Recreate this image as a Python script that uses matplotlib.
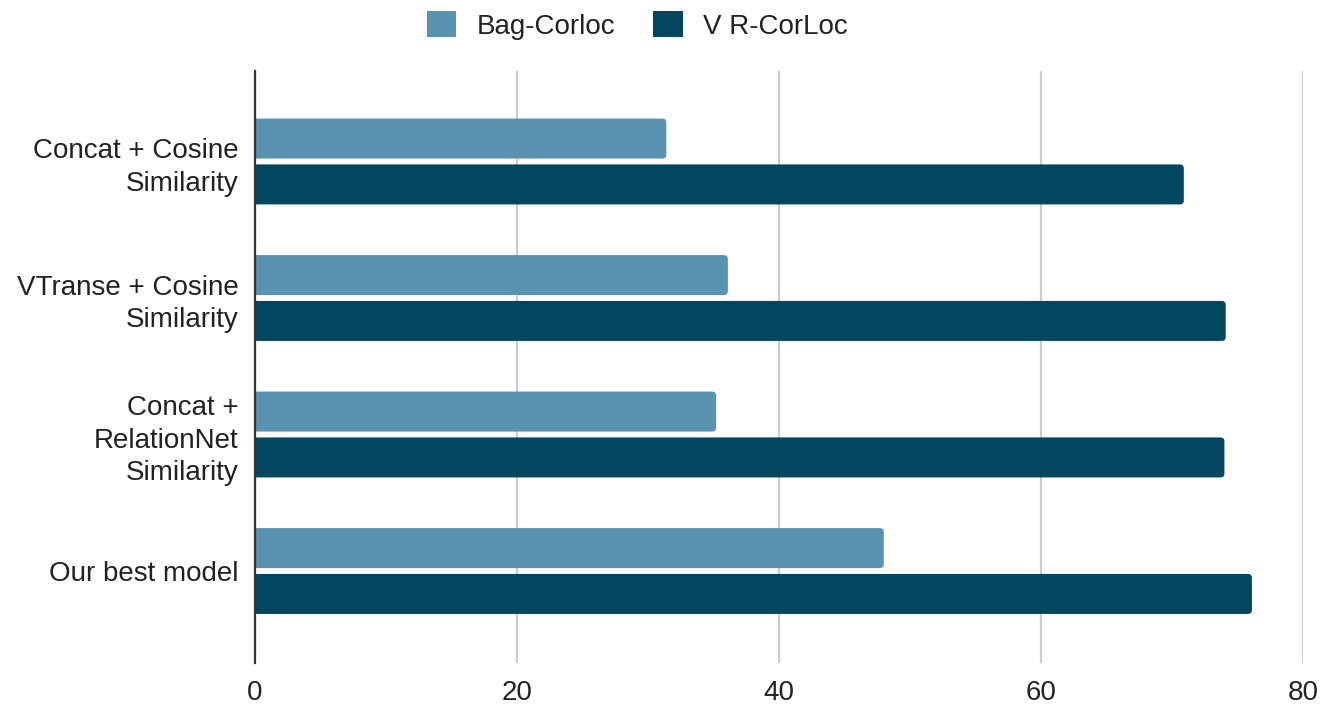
import numpy as np
import matplotlib.pyplot as plt
from matplotlib.patches import FancyBboxPatch, Patch

plt.rcParams['font.family'] = ['Liberation Sans', 'DejaVu Sans']

categories = ["Concat + Cosine\nSimilarity",
              "VTranse + Cosine\nSimilarity",
              "Concat +\nRelationNet\nSimilarity",
              "Our best model"]
bag_corloc = [31.4, 36.1, 35.2, 48.0]
vr_corloc = [70.9, 74.1, 74.0, 76.1]
series_names = ["Bag-Corloc", "V R-CorLoc"]
x_ticks = [0, 20, 40, 60, 80]

bag_color = "#5a93b0"
vr_color = "#02465f"

fig = plt.figure(figsize=(13.23, 7.07), dpi=100)
ax = fig.add_axes([0.1927, 0.0622, 0.7922, 0.8374])

y = np.arange(len(categories))
h = 0.293
off = 0.168

# px -> data scaling for rounded corners
x_per_px = 80 / 1048
y_per_px = 1 / 136.5
r = 4 * x_per_px
aspect = y_per_px / x_per_px


def rounded_bar(yc, w, color):
    p = FancyBboxPatch((-1.0, yc - h / 2), w + 1.0, h,
                       boxstyle=f"round,pad=0,rounding_size={r}",
                       mutation_aspect=aspect, facecolor=color,
                       edgecolor="none", zorder=3)
    ax.add_patch(p)


for yi, b, v in zip(y, bag_corloc, vr_corloc):
    rounded_bar(yi - off, b, bag_color)
    rounded_bar(yi + off, v, vr_color)

ax.set_xlim(0, 80)
ax.set_ylim(3.674, -0.663)
ax.set_xticks(x_ticks)
ax.set_yticks(y)
ax.set_yticklabels(categories, linespacing=1.32)
ax.tick_params(axis='y', length=0, pad=12, labelsize=20, colors="#222222")
ax.tick_params(axis='x', length=0, pad=12, labelsize=20, colors="#222222")
ax.grid(axis='x', color="#cccccc", linewidth=1.6, zorder=0)
ax.set_axisbelow(True)
for s in ["top", "right", "bottom"]:
    ax.spines[s].set_visible(False)
ax.spines["left"].set_color("#333333")
ax.spines["left"].set_linewidth(1.6)
ax.spines["left"].set_zorder(4)

handles = [Patch(facecolor=bag_color, label=series_names[0]),
           Patch(facecolor=vr_color, label=series_names[1])]
fig.legend(handles=handles, loc="center", bbox_to_anchor=(0.482, 0.964),
           ncol=2, frameon=False, fontsize=20, handlelength=1.05,
           handleheight=1.05, handletextpad=0.75, columnspacing=1.35,
           labelcolor="#222222")

fig.savefig("out.png", dpi=100)
